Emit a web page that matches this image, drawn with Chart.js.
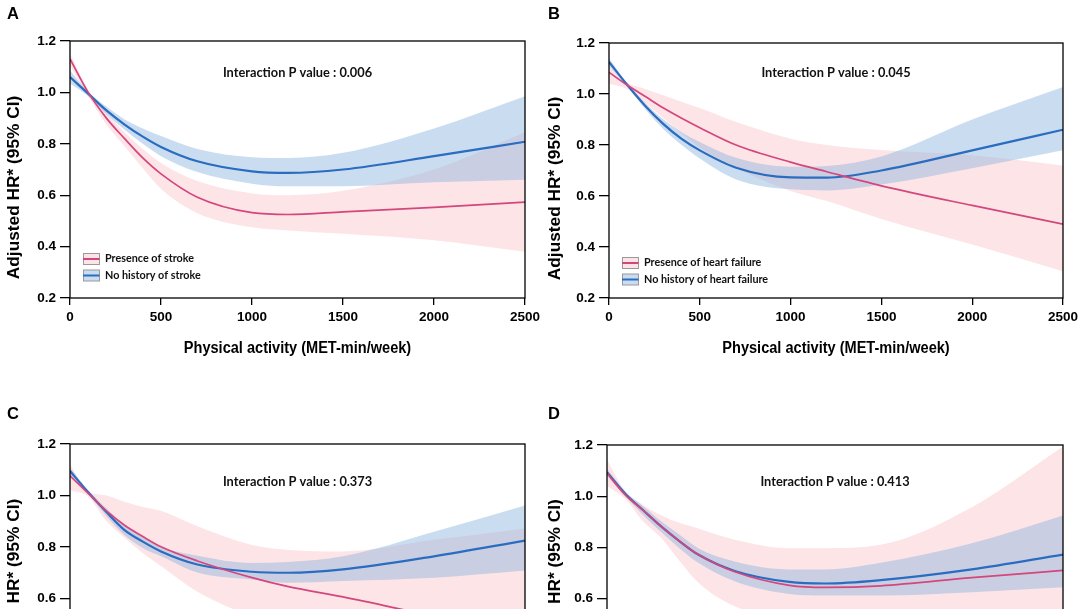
<!DOCTYPE html>
<html><head><meta charset="utf-8">
<script src="https://cdn.jsdelivr.net/npm/chart.js@4.4.0/dist/chart.umd.min.js"></script>
<style>
html,body{margin:0;padding:0;background:#fff;overflow:hidden;width:1082px;height:609px;}
canvas{position:absolute;}
</style></head><body>
<canvas id="cA" width="541" height="370" style="left:0;top:0;width:541px;height:370px"></canvas>
<canvas id="cB" width="541" height="370" style="left:541px;top:0;width:541px;height:370px"></canvas>
<canvas id="cC" width="541" height="370" style="left:0;top:400px;width:541px;height:370px"></canvas>
<canvas id="cD" width="541" height="370" style="left:541px;top:400px;width:541px;height:370px"></canvas>
<script>
// ---- data (physical activity, MET-min/week) ----
const xValues = [0, 100, 200, 300, 400, 500, 700, 1000, 1200, 1500, 2000, 2500];
const xTickLabels = [0, 500, 1000, 1500, 2000, 2500];
const yTickLabels = [0.2, 0.4, 0.6, 0.8, 1.0, 1.2];

// Panel A: stroke
const aPinkFit = [1.13, 1.00, 0.90, 0.82, 0.745, 0.683, 0.592, 0.532, 0.525, 0.535, 0.553, 0.573];
const aPinkHi  = [1.15, 1.01, 0.92, 0.845, 0.78, 0.725, 0.655, 0.607, 0.60, 0.617, 0.70, 0.845];
const aPinkLo  = [1.105, 0.985, 0.875, 0.79, 0.705, 0.625, 0.53, 0.475, 0.463, 0.45, 0.425, 0.38];
const aBlueFit = [1.06, 0.995, 0.93, 0.875, 0.828, 0.788, 0.732, 0.693, 0.687, 0.70, 0.752, 0.808];
const aBlueHi  = [1.085, 1.003, 0.945, 0.895, 0.86, 0.83, 0.78, 0.748, 0.745, 0.765, 0.86, 0.985];
const aBlueLo  = [1.035, 0.985, 0.915, 0.855, 0.80, 0.752, 0.69, 0.645, 0.635, 0.635, 0.65, 0.66];

// Panel B: heart failure
const bPinkFit = [1.085, 1.035, 0.99, 0.945, 0.905, 0.868, 0.80, 0.733, 0.695, 0.64, 0.563, 0.49];
const bPinkHi  = [1.11, 1.045, 1.02, 0.995, 0.97, 0.945, 0.89, 0.825, 0.80, 0.78, 0.76, 0.72];
const bPinkLo  = [1.04, 1.02, 0.965, 0.905, 0.845, 0.79, 0.71, 0.62, 0.58, 0.51, 0.41, 0.305];
const bBlueFit = [1.126, 1.036, 0.953, 0.882, 0.824, 0.779, 0.711, 0.673, 0.672, 0.70, 0.779, 0.86];
const bBlueHi  = [1.14, 1.042, 0.965, 0.90, 0.85, 0.812, 0.75, 0.715, 0.718, 0.755, 0.90, 1.027];
const bBlueLo  = [1.11, 1.03, 0.94, 0.862, 0.80, 0.747, 0.665, 0.626, 0.622, 0.645, 0.709, 0.779];

// Panel C
const cPinkFit = [1.076, 1.008, 0.94, 0.884, 0.84, 0.80, 0.745, 0.68, 0.645, 0.605, 0.53, 0.46];
const cPinkHi  = [1.12, 1.015, 1.00, 0.975, 0.955, 0.94, 0.88, 0.807, 0.788, 0.782, 0.827, 0.871];
const cPinkLo  = [1.02, 0.995, 0.90, 0.835, 0.775, 0.725, 0.625, 0.53, 0.49, 0.43, 0.36, 0.30];
const cBlueFit = [1.095, 1.012, 0.935, 0.865, 0.82, 0.782, 0.731, 0.703, 0.699, 0.712, 0.763, 0.824];
const cBlueHi  = [1.108, 1.02, 0.95, 0.885, 0.84, 0.80, 0.765, 0.737, 0.741, 0.763, 0.859, 0.961];
const cBlueLo  = [1.082, 1.005, 0.92, 0.845, 0.795, 0.763, 0.70, 0.673, 0.66, 0.667, 0.68, 0.708];

// Panel D
const dPinkFit = [1.09, 1.005, 0.944, 0.88, 0.823, 0.772, 0.705, 0.652, 0.644, 0.65, 0.682, 0.71];
const dPinkHi  = [1.142, 1.02, 0.965, 0.925, 0.895, 0.874, 0.83, 0.797, 0.797, 0.81, 0.957, 1.194];
const dPinkLo  = [1.04, 0.99, 0.90, 0.835, 0.745, 0.663, 0.57, 0.52, 0.50, 0.49, 0.47, 0.42];
const dBlueFit = [1.094, 1.01, 0.944, 0.88, 0.823, 0.772, 0.708, 0.665, 0.659, 0.672, 0.714, 0.772];
const dBlueHi  = [1.107, 1.018, 0.96, 0.90, 0.848, 0.797, 0.745, 0.714, 0.714, 0.74, 0.816, 0.925];
const dBlueLo  = [1.079, 1.0, 0.925, 0.858, 0.795, 0.74, 0.668, 0.618, 0.612, 0.612, 0.625, 0.644];

const panelLetters = ['A', 'B', 'C', 'D'];
const pValueTexts = ['Interaction P value : 0.006', 'Interaction P value : 0.045', 'Interaction P value : 0.373', 'Interaction P value : 0.413'];
const legendA = ['Presence of stroke', 'No history of stroke'];
const legendB = ['Presence of heart failure', 'No history of heart failure'];
const yTitle = 'Adjusted HR* (95% CI)';
const xTitle = 'Physical activity (MET-min/week)';

// ---- styling ----
const PINK_LINE = '#d4467e';
const BLUE_LINE = '#2a6cc0';
const PINK_BAND = 'rgba(248,172,182,0.33)';
const BLUE_BAND = 'rgba(128,174,220,0.42)';
const FONT = '"Liberation Sans", Arial, sans-serif';
const LFONT = 'Lato, "Open Sans", sans-serif';
Chart.defaults.font.family = FONT;
Chart.defaults.color = '#000';

function pts(arr) { return xValues.map((x, i) => ({x: x, y: arr[i]})); }

function build(id, idx, s, legend, lay) {
  const H = 370;
  const decor = {
    id: 'decor' + idx,
    afterDatasetsDraw(chart) {
      const {ctx, chartArea: a} = chart;
      ctx.save();
      ctx.strokeStyle = '#000';
      ctx.lineWidth = 1.3;
      ctx.strokeRect(a.left, a.top, a.right - a.left, a.bottom - a.top);
      ctx.restore();
    },
    afterDraw(chart) {
      const {ctx, chartArea: a} = chart;
      ctx.save();
      ctx.fillStyle = '#000';
      // panel letter
      ctx.font = 'bold 16.5px ' + FONT;
      ctx.textAlign = 'left'; ctx.textBaseline = 'middle';
      ctx.fillText(panelLetters[idx], 7, 14.5);
      // interaction p value
      ctx.font = 'bold 12.8px ' + LFONT;
      ctx.textAlign = 'center';
      ctx.fillStyle = '#111';
      ctx.fillText(pValueTexts[idx], (a.left + a.right) / 2, a.top + lay.pOff);
      // y title
      ctx.save();
      ctx.fillStyle = '#000';
      ctx.font = 'bold 17.3px ' + FONT;
      ctx.translate(14, (a.top + a.bottom) / 2 + 18);
      ctx.rotate(-Math.PI / 2);
      ctx.textAlign = 'center'; ctx.textBaseline = 'middle';
      ctx.fillText(yTitle, 0, 0);
      ctx.restore();
      // x title
      ctx.save();
      ctx.fillStyle = '#000';
      ctx.font = 'bold 16px ' + FONT;
      ctx.translate((a.left + a.right) / 2, a.bottom + 51);
      ctx.scale(0.91, 1);
      ctx.textAlign = 'center'; ctx.textBaseline = 'middle';
      ctx.fillText(xTitle, 0, 0);
      ctx.restore();
      // legend
      if (legend) {
        const lx = a.left + 13, ly = a.bottom - lay.legOff;
        const cols = [[PINK_BAND, PINK_LINE], [BLUE_BAND, BLUE_LINE]];
        for (let k = 0; k < 2; k++) {
          const cy = ly + k * 16.5;
          ctx.fillStyle = '#fff';
          ctx.fillRect(lx, cy - 5.5, 16, 11);
          ctx.fillStyle = cols[k][0];
          ctx.fillRect(lx, cy - 5.5, 16, 11);
          ctx.strokeStyle = '#9a9a9a'; ctx.lineWidth = 1;
          ctx.strokeRect(lx + 0.5, cy - 5.5, 16, 11);
          ctx.strokeStyle = cols[k][1]; ctx.lineWidth = 2;
          ctx.beginPath(); ctx.moveTo(lx, cy); ctx.lineTo(lx + 16.5, cy); ctx.stroke();
          ctx.fillStyle = '#111';
          ctx.font = 'bold 10.8px ' + LFONT;
          ctx.textAlign = 'left'; ctx.textBaseline = 'middle';
          ctx.fillText(legend[k], lx + 22, cy);
        }
      }
      ctx.restore();
    }
  };
  return new Chart(document.getElementById(id), {
    type: 'line',
    data: {
      datasets: [
        {data: pts(s.pinkFit), borderColor: PINK_LINE, borderWidth: 1.7, pointRadius: 0, fill: false, cubicInterpolationMode: 'monotone'},
        {data: pts(s.blueFit), borderColor: BLUE_LINE, borderWidth: 2.2, pointRadius: 0, fill: false, cubicInterpolationMode: 'monotone'},
        {data: pts(s.blueLo), borderWidth: 0, borderColor: 'rgba(0,0,0,0)', pointRadius: 0, fill: false, cubicInterpolationMode: 'monotone'},
        {data: pts(s.blueHi), borderWidth: 0, borderColor: 'rgba(0,0,0,0)', backgroundColor: BLUE_BAND, pointRadius: 0, fill: {target: 2}, cubicInterpolationMode: 'monotone'},
        {data: pts(s.pinkLo), borderWidth: 0, borderColor: 'rgba(0,0,0,0)', pointRadius: 0, fill: false, cubicInterpolationMode: 'monotone'},
        {data: pts(s.pinkHi), borderWidth: 0, borderColor: 'rgba(0,0,0,0)', backgroundColor: PINK_BAND, pointRadius: 0, fill: {target: 4}, cubicInterpolationMode: 'monotone'}
      ]
    },
    options: {
      responsive: false, maintainAspectRatio: false, animation: false, devicePixelRatio: 1,
      layout: {padding: {top: lay.top, right: lay.right, left: 0, bottom: 0}},
      plugins: {legend: {display: false}, tooltip: {enabled: false}},
      events: [],
      scales: {
        x: {
          type: 'linear', min: 0, max: 2500,
          afterBuildTicks: sc => { sc.ticks = xTickLabels.map(v => ({value: v})); },
          ticks: {font: {size: 13.5, weight: 'bold'}, color: '#000', padding: 4, maxRotation: 0, callback: v => String(v)},
          grid: {display: true, drawOnChartArea: false, drawTicks: true, tickLength: 7, color: '#000', lineWidth: 1.3},
          border: {display: false},
          title: {display: false},
          afterFit: sc => { sc.height = H - lay.bottom; sc.paddingLeft = 0; sc.paddingRight = 0; }
        },
        y: {
          type: 'linear', min: 0.2, max: 1.2,
          afterBuildTicks: sc => { sc.ticks = yTickLabels.map(v => ({value: v})); },
          ticks: {font: {size: 13.5, weight: 'bold'}, color: '#000', padding: 4, callback: v => Number(v).toFixed(1)},
          grid: {display: true, drawOnChartArea: false, drawTicks: true, tickLength: 10, color: '#000', lineWidth: 1.3},
          border: {display: false},
          afterFit: sc => { sc.width = lay.left; sc.paddingTop = 0; sc.paddingBottom = 0; }
        }
      }
    },
    plugins: [decor]
  });
}

build('cA', 0, {pinkFit: aPinkFit, pinkHi: aPinkHi, pinkLo: aPinkLo, blueFit: aBlueFit, blueHi: aBlueHi, blueLo: aBlueLo}, legendA,
      {left: 70, right: 16, top: 41, bottom: 298, pOff: 32, legOff: 39});
build('cB', 1, {pinkFit: bPinkFit, pinkHi: bPinkHi, pinkLo: bPinkLo, blueFit: bBlueFit, blueHi: bBlueHi, blueLo: bBlueLo}, legendB,
      {left: 68, right: 19, top: 43, bottom: 298, pOff: 30, legOff: 35});
build('cC', 2, {pinkFit: cPinkFit, pinkHi: cPinkHi, pinkLo: cPinkLo, blueFit: cBlueFit, blueHi: cBlueHi, blueLo: cBlueLo}, null,
      {left: 70, right: 16, top: 44, bottom: 301, pOff: 38, legOff: 39});
build('cD', 3, {pinkFit: dPinkFit, pinkHi: dPinkHi, pinkLo: dPinkLo, blueFit: dBlueFit, blueHi: dBlueHi, blueLo: dBlueLo}, null,
      {left: 66, right: 19, top: 45, bottom: 301, pOff: 37, legOff: 39});
</script>
</body></html>
